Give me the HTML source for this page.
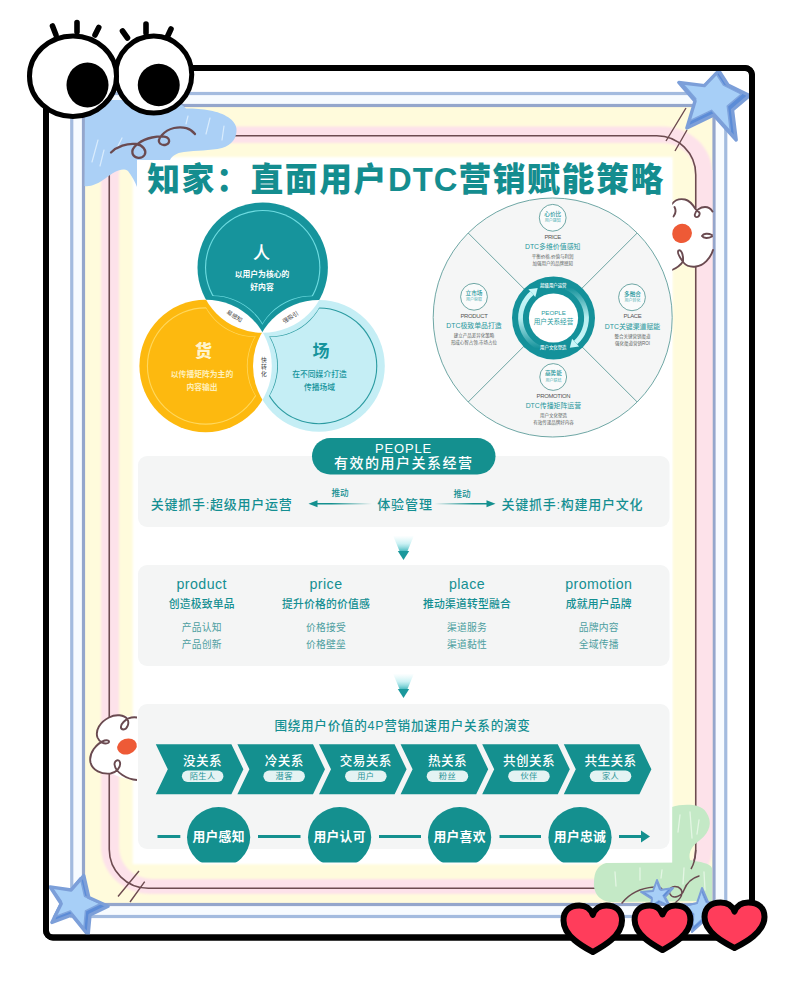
<!DOCTYPE html>
<html lang="zh"><head><meta charset="utf-8"><title>知家：直面用户DTC营销赋能策略</title>
<style>
html,body{margin:0;padding:0;background:#fff}
body{width:800px;height:1001px;position:relative;overflow:hidden;font-family:"Liberation Sans","Noto Sans CJK SC",sans-serif}
.t{position:absolute;white-space:nowrap;line-height:1;transform:translate(-50%,-50%);color:#148f92}
</style></head><body>
<svg width="800" height="1001" viewBox="0 0 800 1001" style="position:absolute;left:0;top:0">
<rect x="46" y="68" width="706" height="869.5" rx="7" fill="#fff" stroke="#000" stroke-width="6"/>
<rect x="71.75" y="93.5" width="654" height="823" fill="#f7fbff" stroke="#a3bbdf" stroke-width="3.2"/>
<rect x="83.5" y="105.5" width="630.5" height="799" fill="#fffbdc" stroke="#94a6cc" stroke-width="3.2"/>
<clipPath id="cin"><rect x="85.1" y="107.1" width="627.3" height="795.8"/></clipPath>
<g clip-path="url(#cin)">
<filter id="sb" x="-5%" y="-5%" width="110%" height="110%"><feGaussianBlur stdDeviation="1.1"/></filter>
<rect x="101" y="126.6" width="611.5" height="767.4" rx="50" ry="47" fill="#fde2ea" filter="url(#sb)"/>
<rect x="696" y="170" width="18" height="680" fill="#fde2ea"/>
<rect x="119" y="143" width="576.8" height="736" rx="33" ry="32" fill="#fffbdc" filter="url(#sb)"/>
<rect x="680" y="180" width="15.6" height="660" fill="#fffbdc"/>
<rect x="109.25" y="135.75" width="586.5" height="752.5" rx="39" fill="none" stroke="#6d4b50" stroke-width="1.6"/>
</g>
<g stroke="#6d4b50" stroke-width="1.4" fill="none"><path d="M686 108L666 141M687 130L675 151M139 871L118 896.5M144.7 881.6L130 902"/></g>
<rect x="132.7" y="157" width="539.8" height="707.3" fill="#fff" filter="url(#sb)"/>
<path d="M672 807 C682 804 700 803 706 812 C713 822 710 832 700 840 C692 846 688 852 690 860 C700 862 710 863 712 868 L712 901 L612 902 C600 902 593 893 594 882 C594 872 598 865 606 863 L672 862 Z" fill="#c4e9c6"/>
<g stroke="#e4f6e4" stroke-width="1.3" stroke-linecap="round" fill="none"><path d="M680 815L678 832M690 812L692 838M699 820L697 834M684 868L683 884M640 868L640 880M615 872L616 886M704 872L705 890M662 870L661 878"/></g>
<path d="M695.8 850 C695.5 858 694 864 691 869" stroke="#6a4a50" stroke-width="1.5" fill="none"/>
<path d="M622 903 C630 893 642 888 654 887 C660 886 664 889 662 893 M676 902 C683 897 684 890 678 887 C672 885 668 889 670 894 C673 900 682 896 684 890 C687 882 692 878 699 876" stroke="#6a4a50" stroke-width="1.5" fill="none" stroke-linecap="round"/>
<path d="M85 100 L176 100 L186 108.5 C195 108.5 202 109 210 110.5 C224 113 236 120 236.5 129 C237 138 232 145 222 148 C210 151 196 150 184 152 C176 153 172 156 170 160 L137 160 L137 187 C135 182 132 176 128 171 C122 167 114 172 106 178 C98 184 90 187 84.5 186 Z" fill="#abd0f6"/>
<g stroke="#d9ecfd" stroke-width="1.2" stroke-linecap="round" fill="none"><path d="M98 140L92 162M104 150L100 166M122 138L116 150M210 118L206 134M224 126L222 140M188 116L186 124"/></g>
<path d="M111 152.5 C117 146.5 127 143 136 144 C143 145 147 150.5 144.5 155 C142 159 134.5 159 132.5 153.5 C130.5 147 142 139.5 152 137.5 C160 136 168 136 169 140 C170 144.5 163.5 146.5 160 143.5 C156 139.5 164 130.5 174 128 C183 126 191 128.5 195 134" stroke="#6a4a50" stroke-width="2.3" fill="none" stroke-linecap="round"/>
<path d="M672 204 C675 200 680 198.5 685 199.5 C690 200.5 693 205 696 209 C699 207 704 205.5 708 207 C710 208 711.5 210 712.2 212 L712.2 252 C710 258 704 265 696 266.5 C691 267.5 686 266 683 263 C679 266 675 268.5 672 270 Z" fill="#fff"/>
<path d="M672 204 C675 200 680 198.5 685 199.5 C690 200.5 693 205 695.5 209 C698.5 213 700.5 211.5 699.5 214.5 C698.5 218 694.5 218 694.8 214.5 C695.2 210.5 700.5 207 705 207 C708.5 207 711 209 712.5 211.5 M674.5 207 C676 210 675.5 214 673.5 216.5 M712 235 C708 233 703.5 233.5 702 236 C703.5 238.5 708.5 238.5 712 236.5 M713 250 C710.5 258.5 703.5 265.5 696 266.5 C690.5 267.2 686 265.5 683.5 262.5 C680.5 258.5 676.5 252.5 678.5 250.5 C681.5 249 683.5 255.5 683 261.5 C680 266 675.5 268.5 672 270" stroke="#6a4a50" stroke-width="1.9" fill="none" stroke-linecap="round"/>
<ellipse cx="682" cy="233.4" rx="10" ry="9.6" transform="rotate(-25 682 233.4)" fill="#ee5a36"/>
<path d="M137 717.5 C128 716 118 714 110 717 C100 721 95 730 97.5 738 C99 742 102 742.5 104 742 C96 745 88 754 90.5 763 C93 771 103 775 112 773.5 C118 777 128 780 137 780 Z" fill="#fff"/>
<path d="M137 717.5 C132 716.8 127 718.5 123.5 722 C120 725.5 120 729.5 123.5 729.5 C127.5 729 129.5 723 127.5 719.5 C124.5 714.5 115.5 714 109 717.5 C100 722 95 730.5 97.5 737.5 C99.5 742.5 104.5 744.5 108 743 C110.5 741.5 108 739.5 104.5 740.5 C96.5 743.5 88.5 753 90.5 762.5 C92.5 770.5 101.5 774.5 110.5 773.5 C116.5 772.5 121 767 120 762.5 C119 758.5 114.5 760 114.5 764.5 C115.5 772.5 127 779.5 137 780" stroke="#6a4a50" stroke-width="1.9" fill="none" stroke-linecap="round"/>
<ellipse cx="127" cy="746.5" rx="10" ry="7.8" transform="rotate(-18 127 746.5)" fill="#ee5a36"/>
<rect x="137" y="160" width="535.2" height="702.6" fill="#fff"/>
<rect x="138" y="456" width="531.5" height="71" rx="9" fill="#f4f5f5"/>
<rect x="138" y="565" width="531.5" height="101" rx="9" fill="#f4f5f5"/>
<rect x="138" y="704" width="531.5" height="145" rx="9" fill="#f4f5f5"/>
<defs>
<mask id="vm0" maskUnits="userSpaceOnUse" x="60" y="140" width="400" height="360"><rect x="60" y="140" width="400" height="360" fill="#fff"/><circle cx="205.60" cy="366.00" r="66.20" fill="#000"/><circle cx="318.90" cy="365.90" r="65.90" fill="#000"/></mask>
<mask id="vm1" maskUnits="userSpaceOnUse" x="60" y="140" width="400" height="360"><rect x="60" y="140" width="400" height="360" fill="#fff"/><circle cx="262.70" cy="267.60" r="65.20" fill="#000"/><circle cx="318.90" cy="365.90" r="65.90" fill="#000"/></mask>
<mask id="vm2" maskUnits="userSpaceOnUse" x="60" y="140" width="400" height="360"><rect x="60" y="140" width="400" height="360" fill="#fff"/><circle cx="262.70" cy="267.60" r="65.20" fill="#000"/><circle cx="205.60" cy="366.00" r="66.20" fill="#000"/></mask>
</defs>
<circle cx="262.70" cy="267.60" r="65.20" fill="#16949c" mask="url(#vm0)"/>
<g transform="translate(262.70 267.60) scale(0.8850) translate(-262.70 -267.60)"><circle cx="262.70" cy="267.60" r="65.20" fill="#6fdde2" mask="url(#vm0)"/></g>
<g transform="translate(262.70 267.60) scale(0.8681) translate(-262.70 -267.60)"><circle cx="262.70" cy="267.60" r="65.20" fill="#16949c" mask="url(#vm0)"/></g>
<circle cx="205.60" cy="366.00" r="66.20" fill="#fdb90f" mask="url(#vm1)"/>
<g transform="translate(205.60 366.00) scale(0.8867) translate(-205.60 -366.00)"><circle cx="205.60" cy="366.00" r="66.20" fill="#ffd85e" mask="url(#vm1)"/></g>
<g transform="translate(205.60 366.00) scale(0.8701) translate(-205.60 -366.00)"><circle cx="205.60" cy="366.00" r="66.20" fill="#fdb90f" mask="url(#vm1)"/></g>
<circle cx="318.90" cy="365.90" r="65.90" fill="#c5eef5" mask="url(#vm2)"/>
<g transform="translate(318.90 365.90) scale(0.8862) translate(-318.90 -365.90)"><circle cx="318.90" cy="365.90" r="65.90" fill="#2a9aa0" mask="url(#vm2)"/></g>
<g transform="translate(318.90 365.90) scale(0.8695) translate(-318.90 -365.90)"><circle cx="318.90" cy="365.90" r="65.90" fill="#c5eef5" mask="url(#vm2)"/></g>
<circle cx="552.7" cy="317.5" r="119.5" fill="#f5f6f6" stroke="#5f9d9b" stroke-width="0.9"/>
<path d="M468.2 233.0L637.2 402.0M637.2 233.0L468.2 402.0" stroke="#5f9d9b" stroke-width="0.9"/>
<circle cx="553.5" cy="318.0" r="41.5" fill="#14919a"/>
<defs><linearGradient id="ga1" x1="0" y1="1" x2="0" y2="0"><stop offset="0" stop-color="#bff3f5" stop-opacity="0"/><stop offset="0.55" stop-color="#bff3f5" stop-opacity="0.95"/><stop offset="1" stop-color="#c9f6f8"/></linearGradient>
<linearGradient id="ga2" x1="0" y1="0" x2="0" y2="1"><stop offset="0" stop-color="#bff3f5" stop-opacity="0"/><stop offset="0.55" stop-color="#bff3f5" stop-opacity="0.95"/><stop offset="1" stop-color="#c9f6f8"/></linearGradient></defs>
<path d="M541.1 348.6A33 33 0 0 1 531.9 293.1" fill="none" stroke="url(#ga1)" stroke-width="4.8"/>
<path d="M535.3 297.0L537.7 288.0L528.4 289.2Z" fill="#c9f6f8"/>
<path d="M565.9 287.4A33 33 0 0 1 575.6 342.5" fill="none" stroke="url(#ga2)" stroke-width="4.8"/>
<path d="M572.1 338.7L569.8 347.7L579.1 346.4Z" fill="#c9f6f8"/>
<circle cx="553.5" cy="318.0" r="24.6" fill="#fff"/>
<circle cx="552.7" cy="217.8" r="13.4" fill="#fafbfb" stroke="#5f9d9b" stroke-width="0.9"/>
<circle cx="474" cy="296.8" r="13.4" fill="#fafbfb" stroke="#5f9d9b" stroke-width="0.9"/>
<circle cx="632" cy="297.3" r="13.4" fill="#fafbfb" stroke="#5f9d9b" stroke-width="0.9"/>
<circle cx="553.2" cy="377" r="13.4" fill="#fafbfb" stroke="#5f9d9b" stroke-width="0.9"/>
<rect x="312" y="438" width="183.5" height="36.5" rx="18.25" fill="#14908f"/>
<defs><linearGradient id="gl1" x1="1" y1="0" x2="0" y2="0"><stop offset="0" stop-color="#14908f" stop-opacity="0"/><stop offset="0.7" stop-color="#14908f"/></linearGradient>
<linearGradient id="gl2" x1="0" y1="0" x2="1" y2="0"><stop offset="0" stop-color="#14908f" stop-opacity="0"/><stop offset="0.7" stop-color="#14908f"/></linearGradient>
<linearGradient id="gd" x1="0" y1="0" x2="0" y2="1"><stop offset="0" stop-color="#9fe8ec" stop-opacity="0"/><stop offset="0.5" stop-color="#7fdde3" stop-opacity="0.4"/><stop offset="1" stop-color="#2fb0b6" stop-opacity="0.9"/></linearGradient></defs>
<rect x="314" y="503" width="58" height="1.5" fill="url(#gl1)"/><path d="M308.5 503.8L317.5 500.3L317.5 507.3Z" fill="#14908f"/>
<rect x="434" y="503" width="56" height="1.5" fill="url(#gl2)"/><path d="M495.5 503.8L486.5 500.3L486.5 507.3Z" fill="#14908f"/>
<path d="M393 535.5L414 535.5L407.3 551.5L399.7 551.5Z" fill="url(#gd)"/>
<path d="M397.8 551.0L409.2 551.0L403.5 560.0Z" fill="#1a989c"/>
<path d="M393 673.5L414 673.5L407.3 689.5L399.7 689.5Z" fill="url(#gd)"/>
<path d="M397.8 689.0L409.2 689.0L403.5 698.0Z" fill="#1a989c"/>
<path d="M155.8 744.3L231.4 744.3L243.4 769.3L231.4 794.3L155.8 794.3L167.8 769.3Z" fill="#14908f"/>
<rect x="181.9" y="770.6" width="41.5" height="11.4" rx="5.7" fill="#e4f3f3"/>
<path d="M237.4 744.3L313.0 744.3L325.0 769.3L313.0 794.3L237.4 794.3L249.4 769.3Z" fill="#14908f"/>
<rect x="263.4" y="770.6" width="41.5" height="11.4" rx="5.7" fill="#e4f3f3"/>
<path d="M319.0 744.3L394.6 744.3L406.6 769.3L394.6 794.3L319.0 794.3L331.0 769.3Z" fill="#14908f"/>
<rect x="345.1" y="770.6" width="41.5" height="11.4" rx="5.7" fill="#e4f3f3"/>
<path d="M400.6 744.3L476.2 744.3L488.2 769.3L476.2 794.3L400.6 794.3L412.6 769.3Z" fill="#14908f"/>
<rect x="426.7" y="770.6" width="41.5" height="11.4" rx="5.7" fill="#e4f3f3"/>
<path d="M482.2 744.3L557.8 744.3L569.8 769.3L557.8 794.3L482.2 794.3L494.2 769.3Z" fill="#14908f"/>
<rect x="508.2" y="770.6" width="41.5" height="11.4" rx="5.7" fill="#e4f3f3"/>
<path d="M563.8 744.3L639.4 744.3L651.4 769.3L639.4 794.3L563.8 794.3L575.8 769.3Z" fill="#14908f"/>
<rect x="589.8" y="770.6" width="41.5" height="11.4" rx="5.7" fill="#e4f3f3"/>
<clipPath id="cb"><rect x="133" y="700" width="540" height="162.4"/></clipPath><g clip-path="url(#cb)">
<ellipse cx="218.6" cy="837.3" rx="31.6" ry="30.2" fill="#14908f"/>
<ellipse cx="339.6" cy="837.3" rx="31.6" ry="30.2" fill="#14908f"/>
<ellipse cx="459.6" cy="837.3" rx="31.6" ry="30.2" fill="#14908f"/>
<ellipse cx="580" cy="837.3" rx="31.6" ry="30.2" fill="#14908f"/>
</g>
<rect x="157.5" y="835" width="22.80000000000001" height="3" fill="#14908f"/>
<rect x="258" y="835" width="42.5" height="3" fill="#14908f"/>
<rect x="379" y="835" width="42" height="3" fill="#14908f"/>
<rect x="499.5" y="835" width="41.5" height="3" fill="#14908f"/>
<rect x="619" y="835" width="24" height="3" fill="#14908f"/><path d="M641 830.5L650 836.5L641 842.5Z" fill="#14908f"/>
</svg>
<div class="t" style="left:406px;top:179.8px;font-size:32.8px;font-weight:900;color:#148d8f;letter-spacing:1.6px">知家：直面用户<span style="letter-spacing:1px">DTC</span>营销赋能策略</div>
<div class="t" style="left:261.5px;top:252.5px;font-size:17px;color:#fff;font-weight:500;">人</div>
<div class="t" style="left:262px;top:275px;font-size:7.8px;color:#fff;font-weight:700;">以用户为核心的</div>
<div class="t" style="left:262px;top:288px;font-size:7.8px;color:#fff;font-weight:700;">好内容</div>
<div class="t" style="left:203.5px;top:351px;font-size:17px;color:#fff4cc;font-weight:900;">货</div>
<div class="t" style="left:202px;top:374.5px;font-size:7.8px;color:#fff0bb;font-weight:700;">以传播矩阵为主的</div>
<div class="t" style="left:202px;top:388.3px;font-size:7.8px;color:#fff0bb;font-weight:700;">内容输出</div>
<div class="t" style="left:321px;top:351px;font-size:17px;color:#16949c;font-weight:700;">场</div>
<div class="t" style="left:319.5px;top:374.5px;font-size:7.8px;color:#16949c;font-weight:500;">在不同媒介打造</div>
<div class="t" style="left:319.5px;top:388px;font-size:7.8px;color:#16949c;font-weight:500;">传播场域</div>
<div class="t" style="left:234px;top:316.5px;font-size:5.8px;color:#444;transform:translate(-50%,-50%) rotate(32deg)">易感知</div>
<div class="t" style="left:290.5px;top:317.5px;font-size:5.8px;color:#444;transform:translate(-50%,-50%) rotate(-32deg)">强吸引</div>
<div class="t" style="left:262.5px;top:367px;font-size:5.8px;color:#444;writing-mode:vertical-rl;letter-spacing:1.2px">快转化</div>
<div class="t" style="left:552.7px;top:215.20000000000002px;font-size:5.6px;color:#1f979c;font-weight:500;">心价比</div>
<div class="t" style="left:552.7px;top:221.4px;font-size:4px;color:#4fb0b4;font-weight:400;">用户感知</div>
<div class="t" style="left:552.7px;top:237.8px;font-size:5.9px;color:#555;font-weight:400;letter-spacing:-0.3px">PRICE</div>
<div class="t" style="left:552.7px;top:247.0px;font-size:6.9px;color:#1f979c;font-weight:400;">DTC多维价值感知</div>
<div class="t" style="left:552.7px;top:257.0px;font-size:4.5px;color:#5a5f60;font-weight:400;">平衡价格,价值与利润</div>
<div class="t" style="left:552.7px;top:264.1px;font-size:4.5px;color:#5a5f60;font-weight:400;">加强用户的品牌感知</div>
<div class="t" style="left:474px;top:294.2px;font-size:5.6px;color:#1f979c;font-weight:500;">立市场</div>
<div class="t" style="left:474px;top:300.40000000000003px;font-size:4px;color:#4fb0b4;font-weight:400;">用户获取</div>
<div class="t" style="left:474px;top:316.8px;font-size:5.9px;color:#555;font-weight:400;letter-spacing:-0.3px">PRODUCT</div>
<div class="t" style="left:474px;top:326.0px;font-size:6.9px;color:#1f979c;font-weight:400;">DTC极致单品打造</div>
<div class="t" style="left:474px;top:336.0px;font-size:4.5px;color:#5a5f60;font-weight:400;">建立产品差异化策略</div>
<div class="t" style="left:474px;top:343.1px;font-size:4.5px;color:#5a5f60;font-weight:400;">形成心智占领,市场占位</div>
<div class="t" style="left:632.5px;top:294.7px;font-size:5.6px;color:#1f979c;font-weight:500;">多融合</div>
<div class="t" style="left:632.5px;top:300.90000000000003px;font-size:4px;color:#4fb0b4;font-weight:400;">用户转化</div>
<div class="t" style="left:632.5px;top:317.3px;font-size:5.9px;color:#555;font-weight:400;letter-spacing:-0.3px">PLACE</div>
<div class="t" style="left:632.5px;top:326.5px;font-size:6.9px;color:#1f979c;font-weight:400;">DTC关键渠道赋能</div>
<div class="t" style="left:632.5px;top:336.5px;font-size:4.5px;color:#5a5f60;font-weight:400;">整合关键营销渠道</div>
<div class="t" style="left:632.5px;top:343.6px;font-size:4.5px;color:#5a5f60;font-weight:400;">强化渠道营销ROI</div>
<div class="t" style="left:553.4px;top:374.4px;font-size:5.6px;color:#1f979c;font-weight:500;">高势能</div>
<div class="t" style="left:553.4px;top:380.6px;font-size:4px;color:#4fb0b4;font-weight:400;">用户联结</div>
<div class="t" style="left:553.4px;top:397px;font-size:5.9px;color:#555;font-weight:400;letter-spacing:-0.3px">PROMOTION</div>
<div class="t" style="left:553.4px;top:406.2px;font-size:6.9px;color:#1f979c;font-weight:400;">DTC传播矩阵运营</div>
<div class="t" style="left:553.4px;top:416.2px;font-size:4.5px;color:#5a5f60;font-weight:400;">用户文化塑造</div>
<div class="t" style="left:553.4px;top:423.3px;font-size:4.5px;color:#5a5f60;font-weight:400;">有效传递品牌好内容</div>
<div class="t" style="left:553.3px;top:285.6px;font-size:4.4px;color:#fff;font-weight:500;">超级用户运营</div>
<div class="t" style="left:553.3px;top:348.2px;font-size:4.4px;color:#fff;font-weight:500;">用户文化塑造</div>
<div class="t" style="left:553.5px;top:312.7px;font-size:6.2px;color:#2a9ca0;font-weight:400;letter-spacing:-0.05px">PEOPLE</div>
<div class="t" style="left:553.5px;top:321.6px;font-size:6.6px;color:#2a9ca0;font-weight:400;">用户关系经营</div>
<div class="t" style="left:403.5px;top:447.6px;font-size:13px;color:#fff;font-weight:400;letter-spacing:0.8px">PEOPLE</div>
<div class="t" style="left:403.8px;top:463px;font-size:14px;color:#fff;font-weight:500;letter-spacing:1.5px">有效的用户关系经营</div>
<div class="t" style="left:221.7px;top:504px;font-size:13px;color:#148f92;font-weight:500;letter-spacing:0.75px">关键抓手:超级用户运营</div>
<div class="t" style="left:405px;top:504px;font-size:13px;color:#148f92;font-weight:500;letter-spacing:0.9px">体验管理</div>
<div class="t" style="left:572.4px;top:504px;font-size:13px;color:#148f92;font-weight:500;letter-spacing:0.75px">关键抓手:构建用户文化</div>
<div class="t" style="left:340px;top:493.3px;font-size:8.6px;color:#148f92;font-weight:500;">推动</div>
<div class="t" style="left:462px;top:493.5px;font-size:8.6px;color:#148f92;font-weight:500;">推动</div>
<div class="t" style="left:201.7px;top:583.5px;font-size:14.2px;color:#148f92;font-weight:400;letter-spacing:0.45px">product</div>
<div class="t" style="left:201.7px;top:603.5px;font-size:10.8px;color:#148f92;font-weight:500;letter-spacing:0.2px">创造极致单品</div>
<div class="t" style="left:201.7px;top:628px;font-size:9.8px;color:#4c9ea0;font-weight:400;letter-spacing:0.2px">产品认知</div>
<div class="t" style="left:201.7px;top:644.6px;font-size:9.8px;color:#4c9ea0;font-weight:400;letter-spacing:0.2px">产品创新</div>
<div class="t" style="left:326px;top:583.5px;font-size:14.2px;color:#148f92;font-weight:400;letter-spacing:0.45px">price</div>
<div class="t" style="left:326px;top:603.5px;font-size:10.8px;color:#148f92;font-weight:500;letter-spacing:0.2px">提升价格的价值感</div>
<div class="t" style="left:326px;top:628px;font-size:9.8px;color:#4c9ea0;font-weight:400;letter-spacing:0.2px">价格接受</div>
<div class="t" style="left:326px;top:644.6px;font-size:9.8px;color:#4c9ea0;font-weight:400;letter-spacing:0.2px">价格壁垒</div>
<div class="t" style="left:467px;top:583.5px;font-size:14.2px;color:#148f92;font-weight:400;letter-spacing:0.45px">place</div>
<div class="t" style="left:467px;top:603.5px;font-size:10.8px;color:#148f92;font-weight:500;letter-spacing:0.2px">推动渠道转型融合</div>
<div class="t" style="left:467px;top:628px;font-size:9.8px;color:#4c9ea0;font-weight:400;letter-spacing:0.2px">渠道服务</div>
<div class="t" style="left:467px;top:644.6px;font-size:9.8px;color:#4c9ea0;font-weight:400;letter-spacing:0.2px">渠道黏性</div>
<div class="t" style="left:598.8px;top:583.5px;font-size:14.2px;color:#148f92;font-weight:400;letter-spacing:0.45px">promotion</div>
<div class="t" style="left:598.8px;top:603.5px;font-size:10.8px;color:#148f92;font-weight:500;letter-spacing:0.2px">成就用户品牌</div>
<div class="t" style="left:598.8px;top:628px;font-size:9.8px;color:#4c9ea0;font-weight:400;letter-spacing:0.2px">品牌内容</div>
<div class="t" style="left:598.8px;top:644.6px;font-size:9.8px;color:#4c9ea0;font-weight:400;letter-spacing:0.2px">全域传播</div>
<div class="t" style="left:402.5px;top:726px;font-size:12.6px;color:#148f92;font-weight:500;letter-spacing:0.7px">围绕用户价值的4P营销加速用户关系的演变</div>
<div class="t" style="left:202.60000000000002px;top:761px;font-size:12.6px;color:#fff;font-weight:500;letter-spacing:0.4px">没关系</div>
<div class="t" style="left:202.60000000000002px;top:776.5px;font-size:8.2px;color:#2a9598;font-weight:400;letter-spacing:0.4px">陌生人</div>
<div class="t" style="left:284.2px;top:761px;font-size:12.6px;color:#fff;font-weight:500;letter-spacing:0.4px">冷关系</div>
<div class="t" style="left:284.2px;top:776.5px;font-size:8.2px;color:#2a9598;font-weight:400;letter-spacing:0.4px">潜客</div>
<div class="t" style="left:365.8px;top:761px;font-size:12.6px;color:#fff;font-weight:500;letter-spacing:0.4px">交易关系</div>
<div class="t" style="left:365.8px;top:776.5px;font-size:8.2px;color:#2a9598;font-weight:400;letter-spacing:0.4px">用户</div>
<div class="t" style="left:447.40000000000003px;top:761px;font-size:12.6px;color:#fff;font-weight:500;letter-spacing:0.4px">热关系</div>
<div class="t" style="left:447.40000000000003px;top:776.5px;font-size:8.2px;color:#2a9598;font-weight:400;letter-spacing:0.4px">粉丝</div>
<div class="t" style="left:529.0px;top:761px;font-size:12.6px;color:#fff;font-weight:500;letter-spacing:0.4px">共创关系</div>
<div class="t" style="left:529.0px;top:776.5px;font-size:8.2px;color:#2a9598;font-weight:400;letter-spacing:0.4px">伙伴</div>
<div class="t" style="left:610.5999999999999px;top:761px;font-size:12.6px;color:#fff;font-weight:500;letter-spacing:0.4px">共生关系</div>
<div class="t" style="left:610.5999999999999px;top:776.5px;font-size:8.2px;color:#2a9598;font-weight:400;letter-spacing:0.4px">家人</div>
<div class="t" style="left:218.6px;top:836.6px;font-size:12.8px;color:#fff;font-weight:700;letter-spacing:0.3px">用户感知</div>
<div class="t" style="left:339.6px;top:836.6px;font-size:12.8px;color:#fff;font-weight:700;letter-spacing:0.3px">用户认可</div>
<div class="t" style="left:459.6px;top:836.6px;font-size:12.8px;color:#fff;font-weight:700;letter-spacing:0.3px">用户喜欢</div>
<div class="t" style="left:580px;top:836.6px;font-size:12.8px;color:#fff;font-weight:700;letter-spacing:0.3px">用户忠诚</div>
<svg width="800" height="1001" viewBox="0 0 800 1001" style="position:absolute;left:0;top:0;pointer-events:none">
<polygon points="657.0,880.0 661.0,890.0 673.0,888.0 665.0,897.0 671.0,908.0 660.0,903.0 650.0,910.0 652.0,899.0 641.0,892.0 653.0,891.0" fill="#5c8cd7"/><polygon points="656.3,882.0 659.5,890.0 669.1,888.4 662.7,895.6 667.5,904.4 658.7,900.4 650.7,906.0 652.3,897.2 643.5,891.6 653.1,890.8" fill="#a7cff7" stroke="#7fa4dd" stroke-width="0.8" stroke-linejoin="round"/><polygon points="657.0,880.0 661.0,890.0 673.0,888.0 665.0,897.0 671.0,908.0 660.0,903.0 650.0,910.0 652.0,899.0 641.0,892.0 653.0,891.0" fill="none" stroke="#7c9fd9" stroke-width="2" stroke-linejoin="round"/>
<polygon points="702.0,888.0 708.0,902.0 722.0,904.0 712.0,914.0 716.0,930.0 703.0,922.0 692.0,932.0 693.0,916.0 684.0,906.0 697.0,903.0" fill="#5c8cd7"/><polygon points="701.2,891.5 706.0,902.7 717.2,904.3 709.2,912.3 712.4,925.1 702.0,918.7 693.2,926.7 694.0,913.9 686.8,905.9 697.2,903.5" fill="#a7cff7" stroke="#7fa4dd" stroke-width="0.8" stroke-linejoin="round"/><polygon points="702.0,888.0 708.0,902.0 722.0,904.0 712.0,914.0 716.0,930.0 703.0,922.0 692.0,932.0 693.0,916.0 684.0,906.0 697.0,903.0" fill="none" stroke="#7c9fd9" stroke-width="2" stroke-linejoin="round"/>
<polygon points="718.8,70.6 728.0,85.0 749.4,95.6 732.5,110.0 736.2,140.0 713.8,115.0 686.9,128.0 695.0,101.2 678.8,82.5 704.4,85.6" fill="#5c8cd7"/><polygon points="715.7,73.0 723.5,85.1 741.5,94.0 727.3,106.1 730.4,131.3 711.5,110.3 689.0,121.2 695.8,98.8 682.1,83.0 703.7,85.6" fill="#a7cff7" stroke="#7fa4dd" stroke-width="1.5" stroke-linejoin="round"/><polygon points="718.8,70.6 728.0,85.0 749.4,95.6 732.5,110.0 736.2,140.0 713.8,115.0 686.9,128.0 695.0,101.2 678.8,82.5 704.4,85.6" fill="none" stroke="#7c9fd9" stroke-width="3.4" stroke-linejoin="round"/>
<polygon points="83.8,875.6 88.8,897.5 108.1,906.2 90.0,915.0 88.1,935.0 71.9,915.0 51.9,922.5 61.2,903.8 50.0,886.9 71.2,890.0" fill="#5c8cd7"/><polygon points="80.3,877.8 84.5,896.2 100.7,903.5 85.5,910.9 83.9,927.7 70.3,910.9 53.5,917.2 61.4,901.4 51.9,887.3 69.8,889.9" fill="#a7cff7" stroke="#7fa4dd" stroke-width="1.5" stroke-linejoin="round"/><polygon points="83.8,875.6 88.8,897.5 108.1,906.2 90.0,915.0 88.1,935.0 71.9,915.0 51.9,922.5 61.2,903.8 50.0,886.9 71.2,890.0" fill="none" stroke="#7c9fd9" stroke-width="3.4" stroke-linejoin="round"/>
<rect x="46" y="68" width="706" height="869.5" rx="7" fill="none" stroke="#000" stroke-width="6"/>
<g stroke="#000" stroke-width="5.6" stroke-linecap="round" fill="none"><path d="M52.5 26L56 35M77 22.5L77 32M98.75 27.5L95 35M122.5 31L127.5 38M146 24L146 33M171 29L167.5 36.5"/></g>
<ellipse cx="153.75" cy="74.5" rx="38" ry="38.5" fill="#fff" stroke="#000" stroke-width="5"/>
<ellipse cx="73" cy="76.2" rx="43.5" ry="40.3" fill="#fff" stroke="#000" stroke-width="5"/>
<ellipse cx="87.5" cy="85" rx="21" ry="22.5" fill="#000"/>
<ellipse cx="158.75" cy="85" rx="21" ry="21.2" fill="#000"/>
<path d="M592.8 952.0 C583.4 946.9 563.5 936.2 563.5 920.4 C563.5 910.1 570.5 905.5 579.3 905.5 C586.9 905.5 591.0 909.7 592.8 914.8 C594.5 909.7 598.6 905.5 606.2 905.5 C615.0 905.5 622.0 910.1 622.0 920.4 C622.0 936.2 602.1 946.9 592.8 952.0Z" fill="#ff3d5b" stroke="#000" stroke-width="6" stroke-linejoin="round"/>
<path d="M662.5 950.0 C653.6 945.1 634.6 934.9 634.6 919.7 C634.6 910.0 641.3 905.5 649.7 905.5 C656.9 905.5 660.8 909.5 662.5 914.4 C664.2 909.5 668.1 905.5 675.3 905.5 C683.7 905.5 690.4 910.0 690.4 919.7 C690.4 934.9 671.4 945.1 662.5 950.0Z" fill="#ff3d5b" stroke="#000" stroke-width="6" stroke-linejoin="round"/>
<path d="M734.5 948.0 C724.9 943.0 704.5 932.5 704.5 917.1 C704.5 907.0 711.7 902.5 720.7 902.5 C728.5 902.5 732.7 906.6 734.5 911.6 C736.3 906.6 740.5 902.5 748.3 902.5 C757.3 902.5 764.5 907.0 764.5 917.1 C764.5 932.5 744.1 943.0 734.5 948.0Z" fill="#ff3d5b" stroke="#000" stroke-width="6" stroke-linejoin="round"/>
</svg>
</body></html>
